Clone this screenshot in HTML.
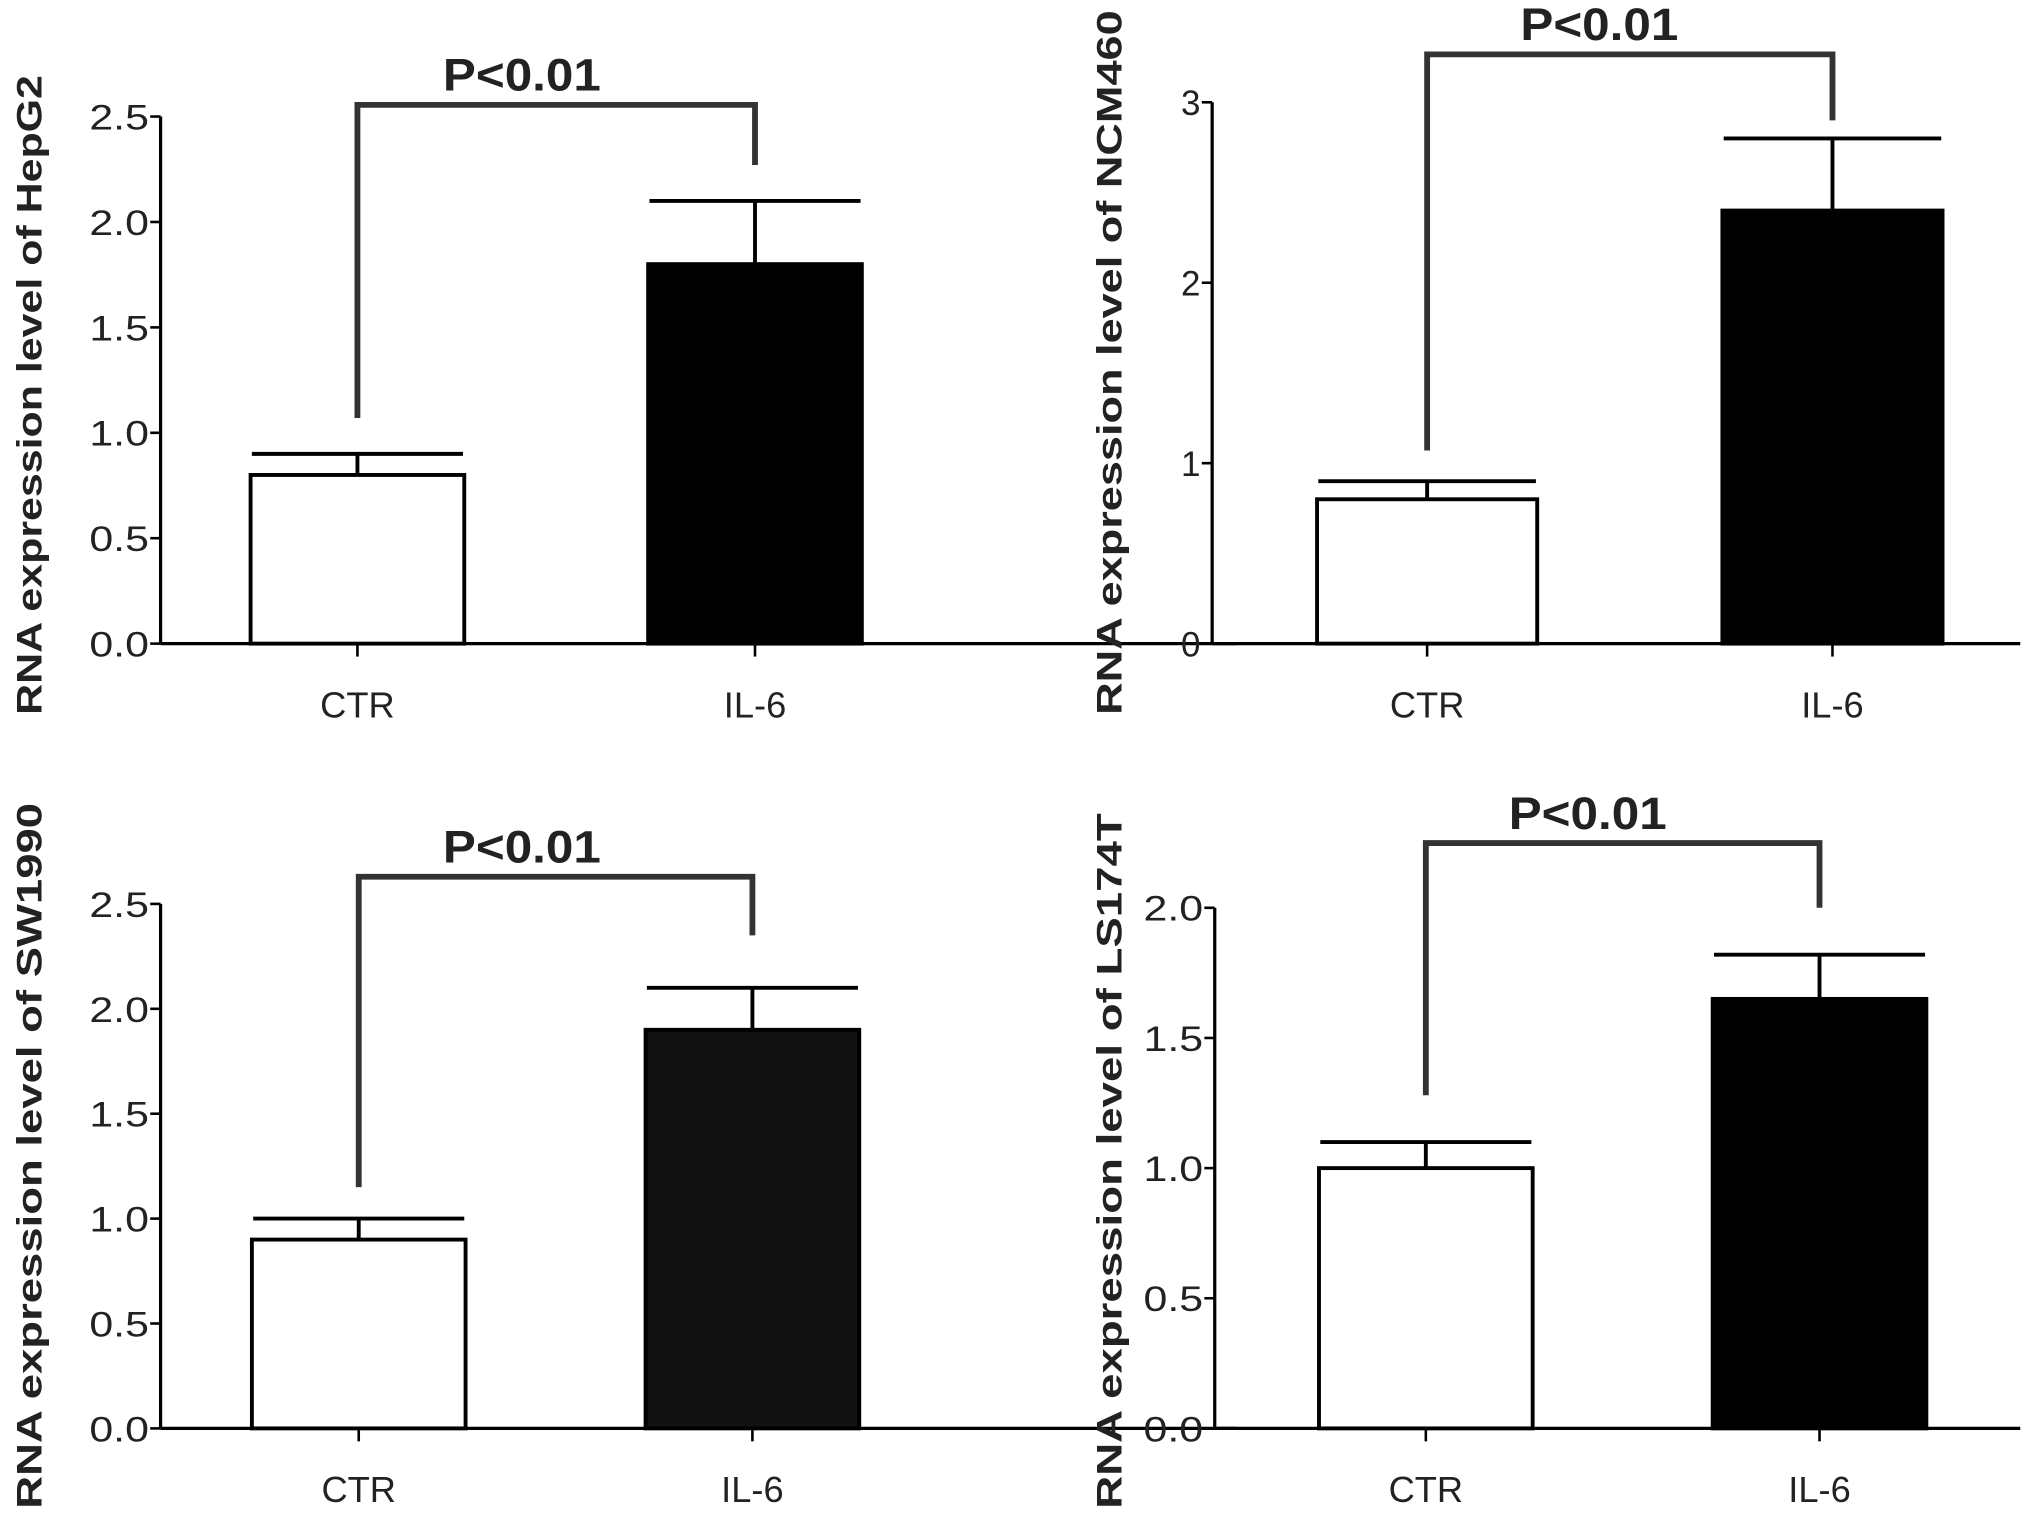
<!DOCTYPE html>
<html><head><meta charset="utf-8"><style>
html,body{margin:0;padding:0;background:#fff;}
svg{display:block;}
text{font-family:"Liberation Sans",sans-serif;}
.tick{font-family:"Liberation Sans Narrow","Liberation Sans",sans-serif;font-size:27px;fill:#222;}
.cat{font-size:28px;fill:#222;}
.ttl{font-size:27px;font-weight:bold;fill:#222;}
.pv{font-size:35px;font-weight:bold;fill:#222;}
</style></head>
<body>
<svg id="chart" width="2031" height="1521" viewBox="0 0 1568.3 1174.5" preserveAspectRatio="none" xmlns="http://www.w3.org/2000/svg"></svg>
<script>
const categories = ["CTR", "IL-6"];
const cellLines = ["HepG2", "NCM460", "SW1990", "LS174T"];
const means = [[0.8, 1.8], [0.8, 2.4], [0.9, 1.9], [1.0, 1.65]];
const errors = [[0.1, 0.3], [0.1, 0.4], [0.1, 0.2], [0.1, 0.17]];
const yMaxes = [2.5, 3, 2.5, 2.0];
const yTicks0 = ["0.0", "0.5", "1.0", "1.5", "2.0", "2.5"];
const yTicks1 = ["0", "1", "2", "3"];
const yTicks2 = ["0.0", "0.5", "1.0", "1.5", "2.0", "2.5"];
const yTicks3 = ["0.0", "0.5", "1.0", "1.5", "2.0"];
const yTickSets = [yTicks0, yTicks1, yTicks2, yTicks3];
const bracketLegs = [[1.07, 2.27], [1.07, 2.9], [1.15, 2.35], [1.28, 2.0]];
const pLabels = ["P<0.01", "P<0.01", "P<0.01", "P<0.01"];

const layout = [
  {ax:124, y0:497, yTop:90, right:955, c:[276,583], bw:165, bry:81, py:70, px:403, tx:22, tspan:[58,552]},
  {ax:936, y0:497, yTop:79, right:1560, c:[1102,1415], bw:170, bry:42, py:31, px:1235, tx:856, tspan:[8,552]},
  {ax:124, y0:1103, yTop:698, right:955, c:[277,581], bw:165, bry:677, py:666, px:403, tx:22, tspan:[620,1165]},
  {ax:938, y0:1103, yTop:701, right:1560, c:[1101,1405], bw:165, bry:651, py:640, px:1226, tx:856, tspan:[628,1165]}
];
const svg = document.getElementById('chart');
const NS = "http://www.w3.org/2000/svg";
function mk(tag, attrs, parent) {
  const e = document.createElementNS(NS, tag);
  for (const k in attrs) e.setAttribute(k, attrs[k]);
  parent.appendChild(e);
  return e;
}
cellLines.forEach((name, p) => {
  const L = layout[p];
  const yScale = v => L.y0 - (v / yMaxes[p]) * (L.y0 - L.yTop);
  const g = mk('g', {}, svg);
  
  
  categories.forEach((cat, i) => {
    const v = means[p][i], e = errors[p][i], cx = L.c[i];
    const top = yScale(v);
    const ln = mk('line', {x1:cx, x2:cx, y1:top, y2:yScale(v+e), stroke:'#000', 'stroke-width':3}, g);
    
    
    const cap = mk('line', {x1:cx-L.bw/2+1, x2:cx+L.bw/2-1, y1:yScale(v+e), y2:yScale(v+e), stroke:'#000', 'stroke-width':3}, g);
    
    
    const r = mk('rect', {x:cx-L.bw/2, y:top, width:L.bw, height:L.y0-top, fill:i===0?'#fff':(p===2?'#111':'#000'), stroke:'#000', 'stroke-width':3}, g);
    
    
    const t = mk('text', {x:cx, y:L.y0+57, 'text-anchor':'middle', class:'cat'}, g);
    t.textContent = cat;
    
    
    const tk = mk('line', {x1:cx, x2:cx, y1:L.y0, y2:L.y0+10, stroke:'#000', 'stroke-width':2}, g);
    
    
  });
  const ya = mk('line', {x1:L.ax, x2:L.ax, y1:L.yTop, y2:L.y0, stroke:'#000', 'stroke-width':2.5}, g);
  
  
  const xa = mk('line', {x1:L.ax, x2:L.right, y1:L.y0, y2:L.y0, stroke:'#000', 'stroke-width':2.5}, g);
  
  
  yTickSets[p].forEach(lbl => {
    const y = yScale(parseFloat(lbl));
    const tl = mk('line', {x1:L.ax-8, x2:L.ax, y1:y, y2:y, stroke:'#000', 'stroke-width':2}, g);
    
    
    const attrs = {x:L.ax-9, y:y+10, 'text-anchor':'end', class:'tick'};
    if (lbl.length === 3) { attrs.textLength = 46; attrs.lengthAdjust = 'spacingAndGlyphs'; }
    const tt = mk('text', attrs, g);
    tt.textContent = lbl;
    
    
  });
  const cy = (L.tspan[0] + L.tspan[1]) / 2, len = L.tspan[1] - L.tspan[0];
  const ti = mk('text', {x:L.tx+10, y:cy, 'text-anchor':'middle', class:'ttl', transform:'rotate(-90 '+(L.tx+10)+' '+cy+')', textLength:len, lengthAdjust:'spacingAndGlyphs'}, g);
  ti.textContent = 'RNA expression level of ' + name;
  
  
  const [l1, l2] = bracketLegs[p];
  const br = mk('polyline', {points:`${L.c[0]},${yScale(l1)} ${L.c[0]},${L.bry} ${L.c[1]},${L.bry} ${L.c[1]},${yScale(l2)}`, fill:'none', stroke:'#333', 'stroke-width':4.5}, g);
  
  
  const pt = mk('text', {x:L.px, y:L.py, 'text-anchor':'middle', class:'pv', textLength:122, lengthAdjust:'spacingAndGlyphs'}, g);
  pt.textContent = pLabels[p];
  
  
});
</script>
</body></html>
